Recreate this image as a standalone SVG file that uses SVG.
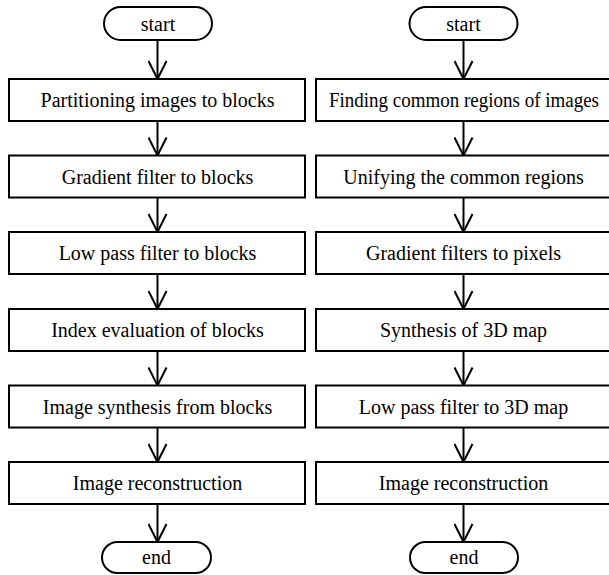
<svg xmlns="http://www.w3.org/2000/svg" width="609" height="575" viewBox="0 0 609 575">
<defs>
<style>
.box{fill:#fff;stroke:#000;stroke-width:2}
.t{font-family:'Times New Roman','Liberation Serif','DejaVu Serif',serif;font-size:20px;fill:#000;text-anchor:middle}
.c{fill:none;stroke:#000;stroke-width:2}
</style>
<marker id="ah" viewBox="0 0 20 20" refX="19" refY="10" markerWidth="20" markerHeight="20" markerUnits="userSpaceOnUse" orient="auto">
<path d="M1,1 L19,10 L1,19" fill="none" stroke="#000" stroke-width="2"/>
</marker>
</defs>
<rect width="609" height="575" fill="#fff"/>
<g id="connectors">
<path class="c" d="M157.5,40 V79" marker-end="url(#ah)"/>
<path class="c" d="M157.5,121 V155.5" marker-end="url(#ah)"/>
<path class="c" d="M157.5,197.5 V232" marker-end="url(#ah)"/>
<path class="c" d="M157.5,274 V309" marker-end="url(#ah)"/>
<path class="c" d="M157.5,351 V385.5" marker-end="url(#ah)"/>
<path class="c" d="M157.5,427.5 V462" marker-end="url(#ah)"/>
<path class="c" d="M157.5,504 V542" marker-end="url(#ah)"/>
<path class="c" d="M463.5,40 V79" marker-end="url(#ah)"/>
<path class="c" d="M463.5,121 V155.5" marker-end="url(#ah)"/>
<path class="c" d="M463.5,197.5 V232" marker-end="url(#ah)"/>
<path class="c" d="M463.5,274 V309" marker-end="url(#ah)"/>
<path class="c" d="M463.5,351 V385.5" marker-end="url(#ah)"/>
<path class="c" d="M463.5,427.5 V462" marker-end="url(#ah)"/>
<path class="c" d="M463.5,504 V542" marker-end="url(#ah)"/>
</g>
<g id="L-start"><rect class="box" x="104" y="7" width="108" height="33" rx="16.5"/><text class="t" x="158" y="30.5" font-family="Liberation Serif, serif">start</text></g>
<g id="L1"><rect class="box" x="9" y="79" width="296" height="42"/><text class="t" x="157.5" y="107">Partitioning images to blocks</text></g>
<g id="L2"><rect class="box" x="9" y="155.5" width="296" height="42"/><text class="t" x="157.5" y="183.5">Gradient filter to blocks</text></g>
<g id="L3"><rect class="box" x="9" y="232" width="296" height="42"/><text class="t" x="157.5" y="260">Low pass filter to blocks</text></g>
<g id="L4"><rect class="box" x="9" y="309" width="296" height="42"/><text class="t" x="157.5" y="337">Index evaluation of blocks</text></g>
<g id="L5"><rect class="box" x="9" y="385.5" width="296" height="42"/><text class="t" x="157.5" y="413.5">Image synthesis from blocks</text></g>
<g id="L6"><rect class="box" x="9" y="462" width="296" height="42"/><text class="t" x="157.5" y="490">Image reconstruction</text></g>
<g id="L-end"><rect class="box" x="102" y="542" width="109" height="31" rx="15.5"/><text class="t" x="156.5" y="564">end</text></g>
<g id="R-start"><rect class="box" x="409.5" y="7" width="108" height="33" rx="16.5"/><text class="t" x="463.5" y="30.5">start</text></g>
<g id="R1"><rect class="box" x="316" y="79" width="296" height="42"/><text class="t" x="464" y="107" textLength="270" lengthAdjust="spacingAndGlyphs">Finding common regions of images</text></g>
<g id="R2"><rect class="box" x="316" y="155.5" width="296" height="42"/><text class="t" x="463.5" y="183.5">Unifying the common regions</text></g>
<g id="R3"><rect class="box" x="316" y="232" width="296" height="42"/><text class="t" x="463.5" y="260">Gradient filters to pixels</text></g>
<g id="R4"><rect class="box" x="316" y="309" width="296" height="42"/><text class="t" x="463.5" y="337">Synthesis of 3D map</text></g>
<g id="R5"><rect class="box" x="316" y="385.5" width="296" height="42"/><text class="t" x="463.5" y="413.5">Low pass filter to 3D map</text></g>
<g id="R6"><rect class="box" x="316" y="462" width="296" height="42"/><text class="t" x="463.5" y="490">Image reconstruction</text></g>
<g id="R-end"><rect class="box" x="410" y="542" width="108" height="31" rx="15.5"/><text class="t" x="464" y="564">end</text></g>
</svg>
